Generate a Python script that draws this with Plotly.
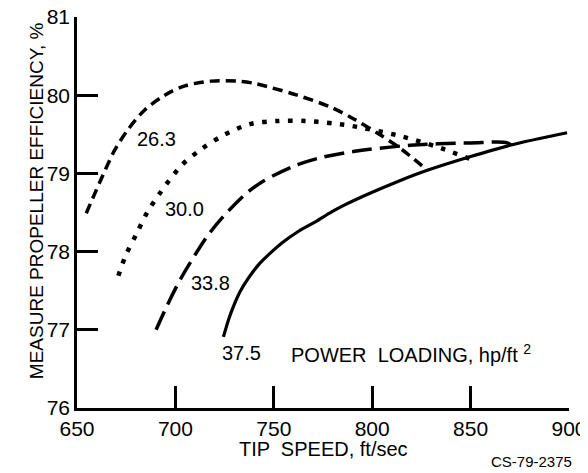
import plotly.graph_objects as go

# Tip speed (ft/sec) and efficiency (%) for each power loading curve
x_263 = [654.7, 663.2, 669.2, 675.9, 684.4, 694.6, 704.8, 718.3, 731.9, 740.4, 748.2, 761.9, 778.7, 790.4, 803, 814.3, 828]
y_263 = [78.49, 78.98, 79.30, 79.56, 79.81, 80.00, 80.12, 80.18, 80.18, 80.15, 80.10, 80.00, 79.85, 79.70, 79.51, 79.32, 79.04]

x_300 = [671.0, 674.9, 680.3, 685.4, 692.2, 703.4, 713.2, 724.6, 737.8, 751.7, 766, 780.2, 788.9, 810.7, 818.4, 833, 839.7, 853.5]
y_300 = [77.69, 77.96, 78.23, 78.49, 78.75, 79.11, 79.31, 79.49, 79.63, 79.67, 79.67, 79.64, 79.61, 79.50, 79.45, 79.34, 79.28, 79.15]

x_338 = [690.2, 695.6, 702.4, 708.3, 716, 724.4, 736.3, 744.6, 759.9, 773.6, 790.4, 819.4, 849.9, 868.7, 871.5]
y_338 = [77.0, 77.30, 77.64, 77.89, 78.19, 78.45, 78.75, 78.90, 79.09, 79.20, 79.28, 79.36, 79.39, 79.39, 79.34]

x_375 = [724.4, 727.0, 729.5, 732.9, 737.1, 742.2, 748.2, 754.1, 762.6, 771.1, 779.6, 786.3, 797.4, 814.3, 828, 848, 870, 899]
y_375 = [76.91, 77.13, 77.30, 77.49, 77.66, 77.83, 77.98, 78.11, 78.26, 78.38, 78.51, 78.60, 78.73, 78.91, 79.04, 79.20, 79.36, 79.52]

labels = ["26.3", "30.0", "33.8", "37.5"]
label_x = [690.6, 704.6, 717.9, 733.5]
label_y = [79.44, 78.54, 77.60, 76.70]

x_ticks = [650, 700, 750, 800, 850, 900]
y_ticks = [76, 77, 78, 79, 80, 81]

FONT = "Liberation Sans, Arial, sans-serif"

fig = go.Figure()
fig.add_trace(go.Scatter(x=x_263, y=y_263, mode="lines",
                         line=dict(color="black", width=3.5, dash="10px,6px", shape="spline", smoothing=0.9)))
fig.add_trace(go.Scatter(x=x_300, y=y_300, mode="lines",
                         line=dict(color="black", width=4.5, dash="4.5px,8.5px", shape="spline", smoothing=0.9)))
fig.add_trace(go.Scatter(x=x_338, y=y_338, mode="lines",
                         line=dict(color="black", width=3.5, dash="20px,8px", shape="spline", smoothing=0.9)))
fig.add_trace(go.Scatter(x=x_375, y=y_375, mode="lines",
                         line=dict(color="black", width=3.2, shape="spline", smoothing=0.9)))

annotations = []
for t, lx, ly in zip(labels, label_x, label_y):
    annotations.append(dict(x=lx, y=ly, text=t, showarrow=False,
                            font=dict(family=FONT, size=20, color="black")))
annotations.append(dict(x=757.5, y=76.70, text="POWER  LOADING, hp/ft <sup>2</sup>", showarrow=False,
                        xanchor="left", font=dict(family=FONT, size=20, color="black")))
annotations.append(dict(x=0.5, y=-0.105, xref="paper", yref="paper", yanchor="middle",
                        text="TIP  SPEED, ft/sec", showarrow=False,
                        font=dict(family=FONT, size=20, color="black")))
annotations.append(dict(x=-0.108, y=0.53, xref="paper", yref="paper", textangle=-90,
                        text="MEASURE PROPELLER EFFICIENCY, %", showarrow=False,
                        font=dict(family=FONT, size=19, color="black")))
annotations.append(dict(x=1.01, y=-0.136, xref="paper", yref="paper", xanchor="right",
                        yanchor="middle", text="CS-79-2375", showarrow=False,
                        font=dict(family=FONT, size=15, color="black")))

axis_common = dict(showgrid=False, zeroline=False, showline=True, linecolor="black",
                   linewidth=2.5, ticks="inside", tickcolor="black", tickwidth=2.5,
                   automargin=False, ticklabeloverflow="allow",
                   tickfont=dict(family=FONT, size=21, color="black"))

fig.update_layout(
    width=588, height=473,
    margin=dict(l=69, r=27, t=9, b=73),
    paper_bgcolor="white", plot_bgcolor="white",
    showlegend=False,
    annotations=annotations,
    xaxis=dict(range=[650, 900], tickvals=x_ticks, ticklen=22, **axis_common),
    yaxis=dict(range=[76, 81], tickvals=y_ticks, ticklen=21, **axis_common),
)

fig.write_html("out.html")
